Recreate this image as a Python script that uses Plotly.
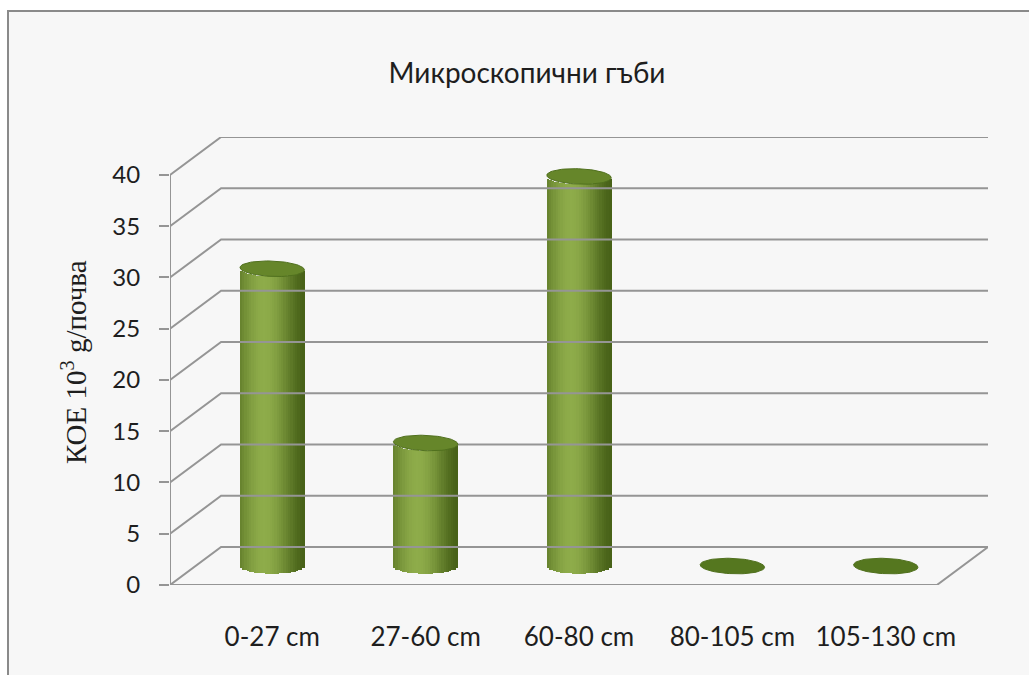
import numpy as np
import plotly.graph_objects as go

# Data
categories = ["0-27 cm", "27-60 cm", "60-80 cm", "80-105 cm", "105-130 cm"]
values = [29, 12, 38, 0, 0]
y_ticks = [0, 5, 10, 15, 20, 25, 30, 35, 40]

# Pseudo-3D geometry (data units)
DEPTH_X = 0.333      # horizontal shift of the back wall
DEPTH_Y = 3.7        # vertical shift of the back wall
MID_X = DEPTH_X / 2  # cylinders stand at mid depth
MID_Y = DEPTH_Y / 2
RX = 0.21            # cylinder half-width
RY = 0.75            # ellipse half-height
N_STRIPS = 28

GRID = "#959595"
TEXT = "#1e1e1e"
x_left, x_right = -0.5, len(categories) - 0.5
y_top = max(y_ticks)

fig = go.Figure()

# Back wall grid lines with their diagonals to the front axis
for v in y_ticks:
    fig.add_trace(go.Scatter(
        x=[x_left, x_left + DEPTH_X, x_right + DEPTH_X],
        y=[v, v + DEPTH_Y, v + DEPTH_Y],
        mode="lines", line=dict(color=GRID, width=2),
        hoverinfo="skip", showlegend=False, cliponaxis=False))

# Floor outline (front edge and right edge)
fig.add_trace(go.Scatter(
    x=[x_left, x_right, x_right + DEPTH_X],
    y=[0, 0, DEPTH_Y],
    mode="lines", line=dict(color=GRID, width=2),
    hoverinfo="skip", showlegend=False, cliponaxis=False))

# Front value axis line
fig.add_trace(go.Scatter(
    x=[x_left, x_left], y=[0, y_top],
    mode="lines", line=dict(color=GRID, width=2),
    hoverinfo="skip", showlegend=False, cliponaxis=False))

centers = [i + MID_X for i in range(len(categories))]

# Cylinder bodies built from thin shaded strips
dark = np.array([72, 98, 24])
light = np.array([142, 172, 74])
edges = np.linspace(-1, 1, N_STRIPS + 1)
for k in range(N_STRIPS):
    t = 0.5 * (edges[k] + edges[k + 1])
    shade = np.cos((t + 0.25) * np.pi / 2.5) ** 1.6
    shade = max(0.0, min(1.0, shade))
    rgb = dark + (light - dark) * shade
    color = "rgb(%d,%d,%d)" % tuple(rgb)
    xs, ys, bases = [], [], []
    for c, v in zip(centers, values):
        if v <= 0:
            continue
        xs.append(c + t * RX)
        ys.append(v)
        bases.append(MID_Y - RY * np.sqrt(max(0.0, 1 - t * t)))
    fig.add_trace(go.Bar(
        x=xs, y=ys, base=bases,
        width=(2 * RX / N_STRIPS) * 1.25,
        marker=dict(color=color, line=dict(width=0)),
        hoverinfo="skip", showlegend=False))

# Cylinder tops (and flat discs for zero values)
theta = np.linspace(0, 2 * np.pi, 80)
for c, v in zip(centers, values):
    cy = v + MID_Y
    fill = "#66862a" if v > 0 else "#55771f"
    fig.add_trace(go.Scatter(
        x=c + RX * np.cos(theta),
        y=cy + RY * np.sin(theta) - 0.12 * np.cos(theta),
        mode="lines", fill="toself", fillcolor=fill,
        line=dict(color="#50701e", width=1),
        hoverinfo="skip", showlegend=False, cliponaxis=False))

# Outer frame
fig.add_shape(type="rect", xref="paper", yref="paper",
              x0=(8 - 170) / 818, x1=(1060 - 170) / 818,
              y0=(585 - 700) / 448, y1=(585 - 11) / 448,
              fillcolor="#f7f7f7", line=dict(color="#8a8a8a", width=2),
              layer="below")

fig.add_annotation(
    text="КОЕ 10<sup>3</sup> g/почва", xref="paper", yref="paper",
    x=(74 - 170) / 818, y=(585 - 362) / 448, textangle=-90,
    showarrow=False, xanchor="center", yanchor="middle",
    font=dict(family="Liberation Serif", size=29, color=TEXT))

fig.update_layout(
    width=1029, height=675,
    margin=dict(l=170, r=41, t=137, b=90),
    paper_bgcolor="white", plot_bgcolor="rgba(0,0,0,0)",
    barmode="overlay", bargap=0,
    title=dict(text="Микроскопични гъби", x=527 / 1029, y=1 - 73 / 675,
               xanchor="center", yanchor="middle", xref="container",
               yref="container",
               font=dict(family="Lato", size=28, color=TEXT)),
    xaxis=dict(range=[x_left, x_right + DEPTH_X], showgrid=False,
               zeroline=False, showline=False,
               tickmode="array", tickvals=centers, ticktext=categories,
               ticks="", ticklabelstandoff=34,
               tickfont=dict(family="Lato", size=26, color=TEXT)),
    yaxis=dict(range=[0, y_top + DEPTH_Y], showgrid=False, zeroline=False,
               showline=False, tickmode="array", tickvals=y_ticks,
               ticks="outside", ticklen=10, tickcolor=GRID, tickwidth=2,
               ticklabelstandoff=14,
               tickfont=dict(family="Lato", size=24, color=TEXT)),
)

fig.write_html("out.html")
